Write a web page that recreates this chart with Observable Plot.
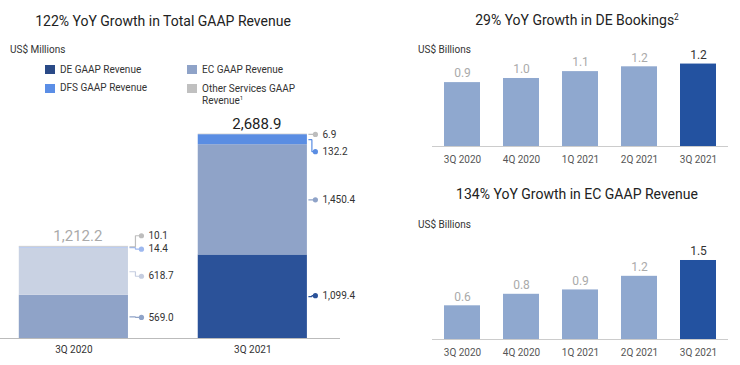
<!DOCTYPE html>
<html><head><meta charset="utf-8">
<script src="https://cdn.jsdelivr.net/npm/d3@7"></script>
<script src="https://cdn.jsdelivr.net/npm/@observablehq/plot@0.6"></script>
<style>
body{margin:0;background:#fff;font-family:Roboto,"Noto Sans",sans-serif;}
#root{position:relative;width:740px;height:365px;overflow:hidden;background:#fff;}
.abs{position:absolute;white-space:nowrap;line-height:1;}
.c{transform:translate(-50%,-50%);}
.l{transform:translate(0,-50%);}
.title{font-size:14px;color:#222;}
.unit{font-size:10px;color:#333;}
.leg{font-size:10px;color:#333;}
.sw{position:absolute;width:10px;height:9px;}
sup{font-size:0.6em;vertical-align:0.6em;line-height:0;}
.chart{position:absolute;}
</style></head>
<body><div id="root"></div>
<script>
// ---------- data ----------
const quarters = ["3Q 2020", "3Q 2021"];
const segments = ["DE GAAP Revenue", "EC GAAP Revenue", "DFS GAAP Revenue", "Other Services GAAP Revenue"];
const deRevenue = [569.0, 1099.4];
const ecGaap = [618.7, 1450.4];
const dfsRevenue = [14.4, 132.2];
const otherRevenue = [10.1, 6.9];
const totals = [1212.2, 2688.9];

const periods = ["3Q 2020", "4Q 2020", "1Q 2021", "2Q 2021", "3Q 2021"];
const deBookings = [0.93, 0.99, 1.09, 1.16, 1.20];
const ecRevenue = [0.6187, 0.83, 0.91, 1.16, 1.4504];

// ---------- styles ----------
const segFills = [
  ["#8fa3c8", "#c9d2e3", "#a9c0ef", "#c4c4c4"],
  ["#2b5299", "#8fa3c8", "#5a8de3", "#c4c4c4"]
];
const dotFills = [
  ["#8fa3c8", "#c5cde0", "#9db8ef", "#bdbdbd"],
  ["#2b5299", "#8fa3c8", "#5a8de3", "#bdbdbd"]
];
const labelShiftPx = [[0.5, 4.5, 1.5, -11], [-1, 0, 12, 0]];
const dotGapPx = [13, 8];
const legendColors = ["#2a4a87", "#8fa3c8", "#5b8ee6", "#c0c0c0"];

const root = document.getElementById("root");
function addText(html, x, y, cls) {
  const d = document.createElement("div");
  d.className = "abs " + cls;
  d.style.left = x + "px"; d.style.top = y + "px";
  d.innerHTML = html;
  root.appendChild(d);
}
function place(node, left, top) {
  const w = document.createElement("div");
  w.className = "chart";
  w.style.left = left + "px"; w.style.top = top + "px";
  w.appendChild(node);
  root.appendChild(w);
}

// ---------- titles & legend ----------
addText("122% YoY Growth in Total GAAP Revenue", 163, 21, "title c");
addText("29% YoY Growth in DE Bookings<sup>2</sup>", 577, 20, "title c");
addText("134% YoY Growth in EC GAAP Revenue", 577, 194, "title c");
addText("US$ Millions", 10, 50, "unit l");
addText("US$ Billions", 418, 50, "unit l");
addText("US$ Billions", 418, 225, "unit l");

const legendPos = [[45, 69.5], [187, 69.5], [45, 88], [187, 88]];
const legendOrder = [0, 1, 2, 3];
const legendLabels = ["DE GAAP Revenue", "EC GAAP Revenue", "DFS GAAP Revenue", "Other Services GAAP<br>Revenue<sup>1</sup>"];
legendOrder.forEach((k, i) => {
  const [x, y] = legendPos[i];
  const s = document.createElement("div");
  s.className = "sw";
  s.style.left = x + "px"; s.style.top = (y - 4.5) + "px";
  s.style.background = legendColors[k];
  root.appendChild(s);
  if (k === 3) {
    const d = document.createElement("div");
    d.className = "abs leg";
    d.style.left = (x + 15) + "px"; d.style.top = (y - 5.5) + "px";
    d.style.lineHeight = "12px";
    d.innerHTML = legendLabels[k];
    root.appendChild(d);
  } else {
    addText(legendLabels[k], x + 15, y, "leg l");
  }
});

// ---------- left stacked chart ----------
const segValues = [deRevenue, ecGaap, dfsRevenue, otherRevenue];
const rows = [];
quarters.forEach((q, i) => {
  let acc = 0;
  segValues.forEach((arr, s) => {
    rows.push({q, i, s, value: arr[i], y1: acc, y2: acc + arr[i]});
    acc += arr[i];
  });
});
const LW = 370, LH = 255, LMB = 27, LMR = 30;
const xDom = [-0.41, 1.49];
const yMaxL = 3000;
const ppu = (LW - LMR) / (xDom[1] - xDom[0]);
const dataPerPx = yMaxL / (LH - LMB);
const halfW = 0.305;
const fmt = d3.format(",.1f");
rows.forEach(r => {
  r.mid = (r.y1 + r.y2) / 2;
  r.ly = r.mid - labelShiftPx[r.i][r.s] * dataPerPx;
  r.edge = r.i + halfW;
  r.dotx = r.i + halfW + dotGapPx[r.i] / ppu;
});

const left = Plot.plot({
  width: LW, height: LH,
  marginTop: 0, marginBottom: LMB, marginLeft: 0, marginRight: LMR,
  x: {domain: xDom, axis: null},
  y: {domain: [0, yMaxL], axis: null},
  color: {type: "identity"},
  style: {fontFamily: "Roboto, sans-serif", background: "transparent", overflow: "visible"},
  marks: [
    Plot.rect(rows, {x1: d => d.i - halfW, x2: d => d.i + halfW, y1: "y1", y2: "y2", fill: d => segFills[d.i][d.s]}),
    Plot.ruleY([0], {stroke: "#bbb", strokeWidth: 1}),
    Plot.link(rows, {x1: d => d.edge + 1 / ppu, y1: "mid", x2: "dotx", y2: "ly", curve: "step", stroke: d => dotFills[d.i][d.s], strokeWidth: 1.2}),
    Plot.dot(rows, {x: "dotx", y: "ly", r: 2.6, fill: d => dotFills[d.i][d.s], stroke: "none"}),
    Plot.text(rows, {x: "dotx", y: "ly", text: d => fmt(d.value), dx: 7, textAnchor: "start", fontSize: 10, fill: "#333"}),
    Plot.text(quarters, {x: (d, i) => i, y: (d, i) => totals[i], text: (d, i) => fmt(totals[i]), dy: -10, dx: 4, fontSize: 15, fill: (d, i) => i === 1 ? "#222" : "#aaa"}),
    Plot.text(quarters, {x: (d, i) => i, frameAnchor: "bottom", dy: 14, fontSize: 10, fill: "#333"})
  ]
});
place(left, 0, 110);

// ---------- right bar charts ----------
function barChart(values, yMax, h, mb) {
  const last = values.length - 1;
  return Plot.plot({
    width: 360, height: h,
    marginTop: 0, marginBottom: mb, marginLeft: 52, marginRight: 12,
    x: {domain: periods, paddingInner: 0.392, paddingOuter: 0.194, tickSize: 0, tickPadding: 9, label: null},
    y: {domain: [0, yMax], axis: null},
    color: {type: "identity"},
    style: {fontFamily: "Roboto, sans-serif", fontSize: "10px", color: "#555", background: "transparent", overflow: "visible"},
    marks: [
      Plot.barY(values, {x: (d, i) => periods[i], y: d => d, fill: (d, i) => i === last ? "#2352a0" : "#8fa8cf"}),
      Plot.ruleY([0], {stroke: "#ccc", strokeWidth: 1}),
      Plot.text(values, {x: (d, i) => periods[i], y: d => d, text: d => d3.format(".1f")(d), dy: -9, fontSize: 12, fill: (d, i) => i === last ? "#333" : "#aaa"})
    ]
  });
}
place(barChart(deBookings, 90 / 68.7, 110, 20), 380, 56);
place(barChart(ecRevenue, 109 / 54.47, 135, 26), 380, 230);
</script>
</body></html>
